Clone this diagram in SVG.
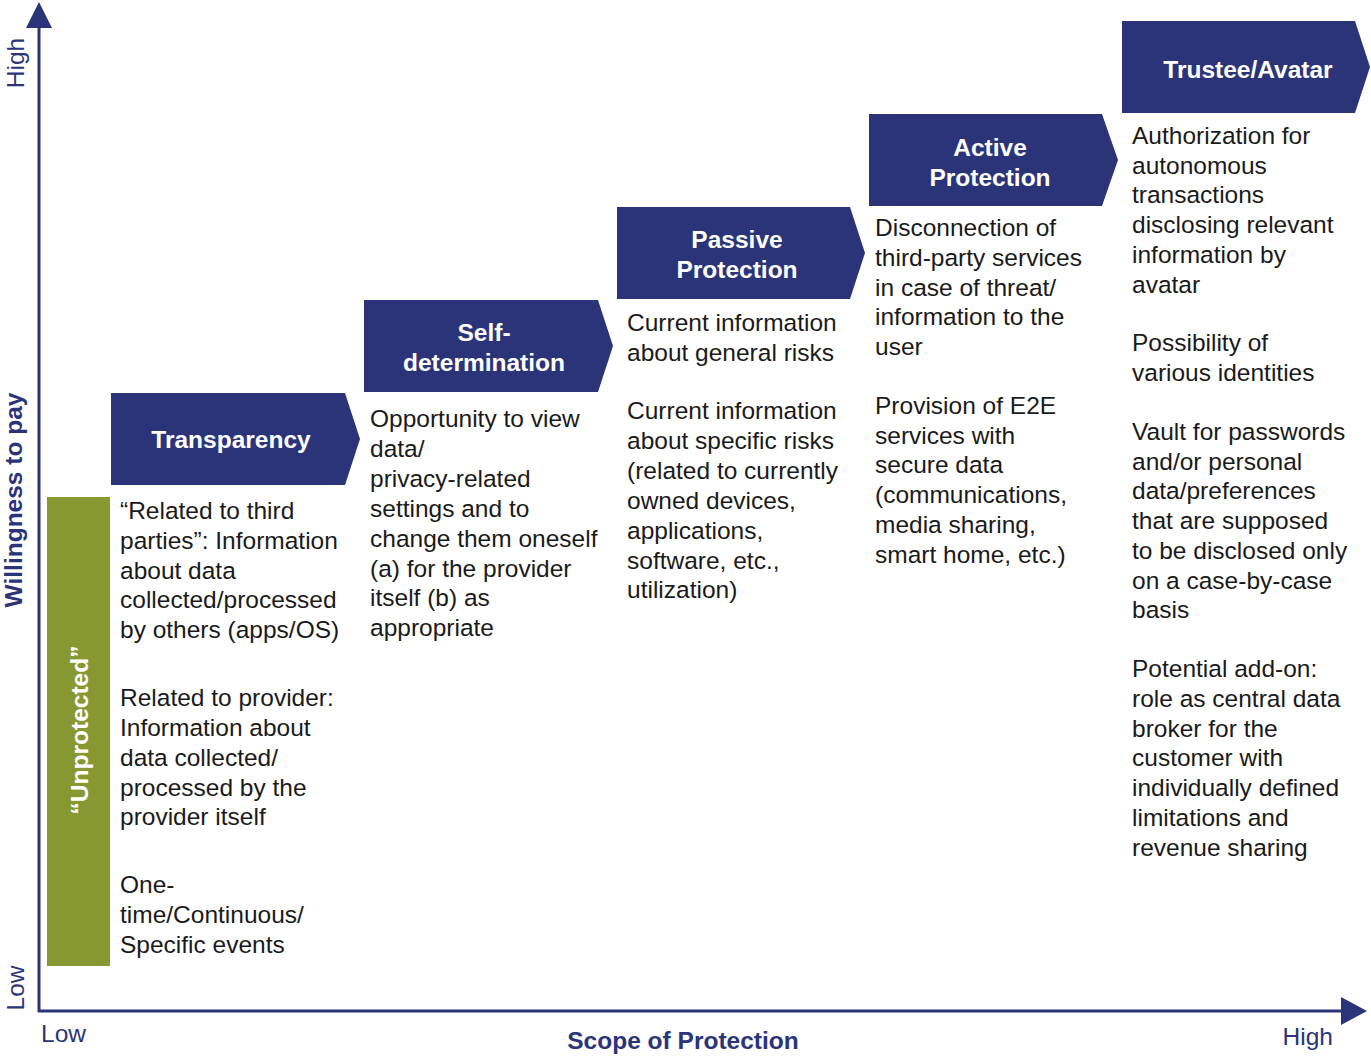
<svg xmlns="http://www.w3.org/2000/svg" width="1371" height="1059" viewBox="0 0 1371 1059">
<style>
.ax{fill:#2b3479;font-family:"Liberation Sans",Arial,sans-serif;font-size:24.5px}
.axb{fill:#2b3479;font-family:"Liberation Sans",Arial,sans-serif;font-size:24.5px;font-weight:bold}
.hd{fill:#ffffff;font-family:"Liberation Sans",Arial,sans-serif;font-size:24.5px;font-weight:bold;text-anchor:middle}
.bd{fill:#1a1a1a;font-family:"Liberation Sans",Arial,sans-serif;font-size:24.5px}
.chev{fill:#2b3479}
</style>
<rect width="1371" height="1059" fill="#ffffff"/>
<g id="axes">
<line x1="39" y1="1012" x2="39" y2="26" stroke="#2b3479" stroke-width="3"/>
<polygon points="39,2 26,28 52,28" fill="#2b3479"/>
<line x1="38" y1="1011" x2="1342" y2="1011" stroke="#2b3479" stroke-width="3"/>
<polygon points="1367,1011 1341,997 1341,1025" fill="#2b3479"/>
<text class="ax" transform="translate(24,63) rotate(-90)" text-anchor="middle">High</text>
<text class="ax" transform="translate(24,988) rotate(-90)" text-anchor="middle">Low</text>
<text class="axb" transform="translate(22,500) rotate(-90)" text-anchor="middle">Willingness to pay</text>
<text class="ax" x="41" y="1042">Low</text>
<text class="ax" x="1333" y="1045" text-anchor="end">High</text>
<text class="axb" x="683" y="1049" text-anchor="middle">Scope of Protection</text>
</g>
<g id="unprotected">
<rect x="47" y="497" width="63" height="469" fill="#879832"/>
<text class="hd" transform="translate(88,730) rotate(-90)">“Unprotected”</text>
</g>
<g id="transparency">
<polygon class="chev" points="111,393 345,393 360,439 345,485 111,485"/>
<text class="hd" x="231" y="448">Transparency</text>
<text class="bd">
<tspan x="120" y="519">“Related to third</tspan>
<tspan x="120" y="549">parties”: Information</tspan>
<tspan x="120" y="579">about data</tspan>
<tspan x="120" y="608">collected/processed</tspan>
<tspan x="120" y="638">by others (apps/OS)</tspan>
<tspan x="120" y="706">Related to provider:</tspan>
<tspan x="120" y="736">Information about</tspan>
<tspan x="120" y="766">data collected/</tspan>
<tspan x="120" y="796">processed by the</tspan>
<tspan x="120" y="825">provider itself</tspan>
<tspan x="120" y="893">One-</tspan>
<tspan x="120" y="923">time/Continuous/</tspan>
<tspan x="120" y="953">Specific events</tspan>
</text>
</g>
<g id="self-determination">
<polygon class="chev" points="364,300 598,300 613,346 598,392 364,392"/>
<text class="hd" x="484" y="341">Self-</text>
<text class="hd" x="484" y="371">determination</text>
<text class="bd">
<tspan x="370" y="427">Opportunity to view</tspan>
<tspan x="370" y="457">data/</tspan>
<tspan x="370" y="487">privacy-related</tspan>
<tspan x="370" y="517">settings and to</tspan>
<tspan x="370" y="547">change them oneself</tspan>
<tspan x="370" y="577">(a) for the provider</tspan>
<tspan x="370" y="606">itself (b) as</tspan>
<tspan x="370" y="636">appropriate</tspan>
</text>
</g>
<g id="passive-protection">
<polygon class="chev" points="617,207 850,207 865,253 850,299 617,299"/>
<text class="hd" x="737" y="248">Passive</text>
<text class="hd" x="737" y="278">Protection</text>
<text class="bd">
<tspan x="627" y="331">Current information</tspan>
<tspan x="627" y="361">about general risks</tspan>
<tspan x="627" y="419">Current information</tspan>
<tspan x="627" y="449">about specific risks</tspan>
<tspan x="627" y="479">(related to currently</tspan>
<tspan x="627" y="509">owned devices,</tspan>
<tspan x="627" y="539">applications,</tspan>
<tspan x="627" y="569">software, etc.,</tspan>
<tspan x="627" y="598">utilization)</tspan>
</text>
</g>
<g id="active-protection">
<polygon class="chev" points="869,114 1102,114 1118,160 1102,206 869,206"/>
<text class="hd" x="990" y="156">Active</text>
<text class="hd" x="990" y="186">Protection</text>
<text class="bd">
<tspan x="875" y="236">Disconnection of</tspan>
<tspan x="875" y="266">third-party services</tspan>
<tspan x="875" y="296">in case of threat/</tspan>
<tspan x="875" y="325">information to the</tspan>
<tspan x="875" y="355">user</tspan>
<tspan x="875" y="414">Provision of E2E</tspan>
<tspan x="875" y="444">services with</tspan>
<tspan x="875" y="473">secure data</tspan>
<tspan x="875" y="503">(communications,</tspan>
<tspan x="875" y="533">media sharing,</tspan>
<tspan x="875" y="563">smart home, etc.)</tspan>
</text>
</g>
<g id="trustee-avatar">
<polygon class="chev" points="1122,21 1355,21 1370,67 1355,113 1122,113"/>
<text class="hd" x="1248" y="78">Trustee/Avatar</text>
<text class="bd">
<tspan x="1132" y="144">Authorization for</tspan>
<tspan x="1132" y="174">autonomous</tspan>
<tspan x="1132" y="203">transactions</tspan>
<tspan x="1132" y="233">disclosing relevant</tspan>
<tspan x="1132" y="263">information by</tspan>
<tspan x="1132" y="293">avatar</tspan>
<tspan x="1132" y="351">Possibility of</tspan>
<tspan x="1132" y="381">various identities</tspan>
<tspan x="1132" y="440">Vault for passwords</tspan>
<tspan x="1132" y="470">and/or personal</tspan>
<tspan x="1132" y="499">data/preferences</tspan>
<tspan x="1132" y="529">that are supposed</tspan>
<tspan x="1132" y="559">to be disclosed only</tspan>
<tspan x="1132" y="589">on a case-by-case</tspan>
<tspan x="1132" y="618">basis</tspan>
<tspan x="1132" y="677">Potential add-on:</tspan>
<tspan x="1132" y="707">role as central data</tspan>
<tspan x="1132" y="737">broker for the</tspan>
<tspan x="1132" y="766">customer with</tspan>
<tspan x="1132" y="796">individually defined</tspan>
<tspan x="1132" y="826">limitations and</tspan>
<tspan x="1132" y="856">revenue sharing</tspan>
</text>
</g>
</svg>
